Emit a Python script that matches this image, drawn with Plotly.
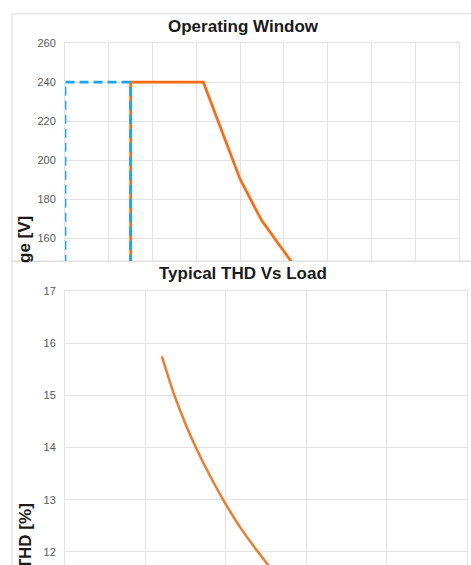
import plotly.graph_objects as go

W, H = 471, 565


def fx(p):
    return p / W


def fy(p):
    return 1 - p / H


# ---------------- data ----------------
# Operating window (top chart)
window_x = [0, 0, 1.5, 1.5]
window_y = [140, 240, 240, 140]
op_x = [1.5, 1.5, 3.16, 4.0, 4.49, 5.14, 5.5]
op_y = [140, 240, 240, 190.4, 169.3, 149, 138]
volt_ticks = [160, 180, 200, 220, 240, 260]

# Typical THD vs load (bottom chart)
load_pct = [24.1, 27.0, 30.0, 33.0, 36.0, 39.5, 43.5, 48.0, 51.0]
thd_pct = [15.75, 15.05, 14.45, 13.93, 13.47, 12.98, 12.48, 12.0, 11.7]
thd_ticks = [12, 13, 14, 15, 16, 17]

FONT = "Liberation Sans, Arial, sans-serif"
GRID = "#e3e3e3"
TICKC = "#595959"
ORANGE = "#ff6a10"
ORANGE2 = "#f07b2c"
BLUE = "#12a9ef"

fig = go.Figure()

fig.add_trace(go.Scatter(x=op_x, y=op_y, mode="lines",
                         line=dict(color=ORANGE, width=2.7),
                         xaxis="x", yaxis="y", showlegend=False))
fig.add_trace(go.Scatter(x=window_x, y=window_y, mode="lines",
                         line=dict(color=BLUE, width=2.8, dash="9px,5px"),
                         xaxis="x", yaxis="y", showlegend=False))
fig.add_trace(go.Scatter(x=load_pct, y=thd_pct, mode="lines",
                         line=dict(color=ORANGE2, width=2.5, shape="spline",
                                   smoothing=0.8),
                         xaxis="x2", yaxis="y2", showlegend=False))

axis_common = dict(showgrid=True, gridcolor=GRID, gridwidth=1, zeroline=False,
                   showline=True, linecolor=GRID, linewidth=1, mirror=True)

fig.update_layout(
    width=W, height=H, autosize=False,
    margin=dict(l=0, r=0, t=0, b=0),
    paper_bgcolor="white", plot_bgcolor="white",
    font=dict(family=FONT, color=TICKC, size=11),
    xaxis=dict(domain=[fx(65), fx(459)], range=[0, 9], dtick=1,
               showticklabels=False, anchor="y", **axis_common),
    yaxis=dict(domain=[fy(258), fy(37.5)], range=[148.4, 260],
               tickmode="array", tickvals=volt_ticks,
               tickfont=dict(size=11, color=TICKC), ticks="",
               ticklabelstandoff=6, anchor="x", **axis_common),
    xaxis2=dict(domain=[fx(65), fx(467)], range=[0, 100], dtick=20,
                showticklabels=False, anchor="y2", **axis_common),
    yaxis2=dict(domain=[0, fy(288.3)], range=[11.748, 17],
                tickmode="array", tickvals=thd_ticks,
                tickfont=dict(size=11, color=TICKC), ticks="",
                ticklabelstandoff=6, anchor="x2", **axis_common),
    shapes=[
        dict(type="rect", xref="paper", yref="paper", layer="below",
             x0=fx(12), x1=1.05, y0=fy(258), y1=fy(8),
             line=dict(color="#d9d9d9", width=1), fillcolor="rgba(0,0,0,0)"),
        dict(type="rect", xref="paper", yref="paper", layer="below",
             x0=fx(12), x1=1.05, y0=-0.05, y1=fy(258),
             line=dict(color="#d9d9d9", width=1), fillcolor="rgba(0,0,0,0)"),
    ],
    annotations=[
        dict(text="<b>Operating Window</b>", x=fx(243), y=fy(20.5),
             xref="paper", yref="paper", showarrow=False,
             xanchor="center", yanchor="middle",
             font=dict(family=FONT, size=17, color="#1a1a1a")),
        dict(text="<b>Typical THD Vs Load</b>", x=fx(243), y=fy(270.5),
             xref="paper", yref="paper", showarrow=False,
             xanchor="center", yanchor="middle",
             font=dict(family=FONT, size=17, color="#1a1a1a")),
        dict(text="<b>ge [V]</b>", x=fx(25), y=fy(236.5), textangle=-90,
             xref="paper", yref="paper", showarrow=False,
             xanchor="center", yanchor="middle",
             font=dict(family=FONT, size=17, color="#1a1a1a")),
        dict(text="<b>THD [%]</b>", x=fx(25), y=fy(536), textangle=-90,
             xref="paper", yref="paper", showarrow=False,
             xanchor="center", yanchor="middle",
             font=dict(family=FONT, size=17, color="#1a1a1a")),
    ],
)

fig.write_html(
    "out.html",
    config={"displayModeBar": False},
    post_script="document.body.style.margin='0';"
                "document.documentElement.style.overflow='hidden';",
)
